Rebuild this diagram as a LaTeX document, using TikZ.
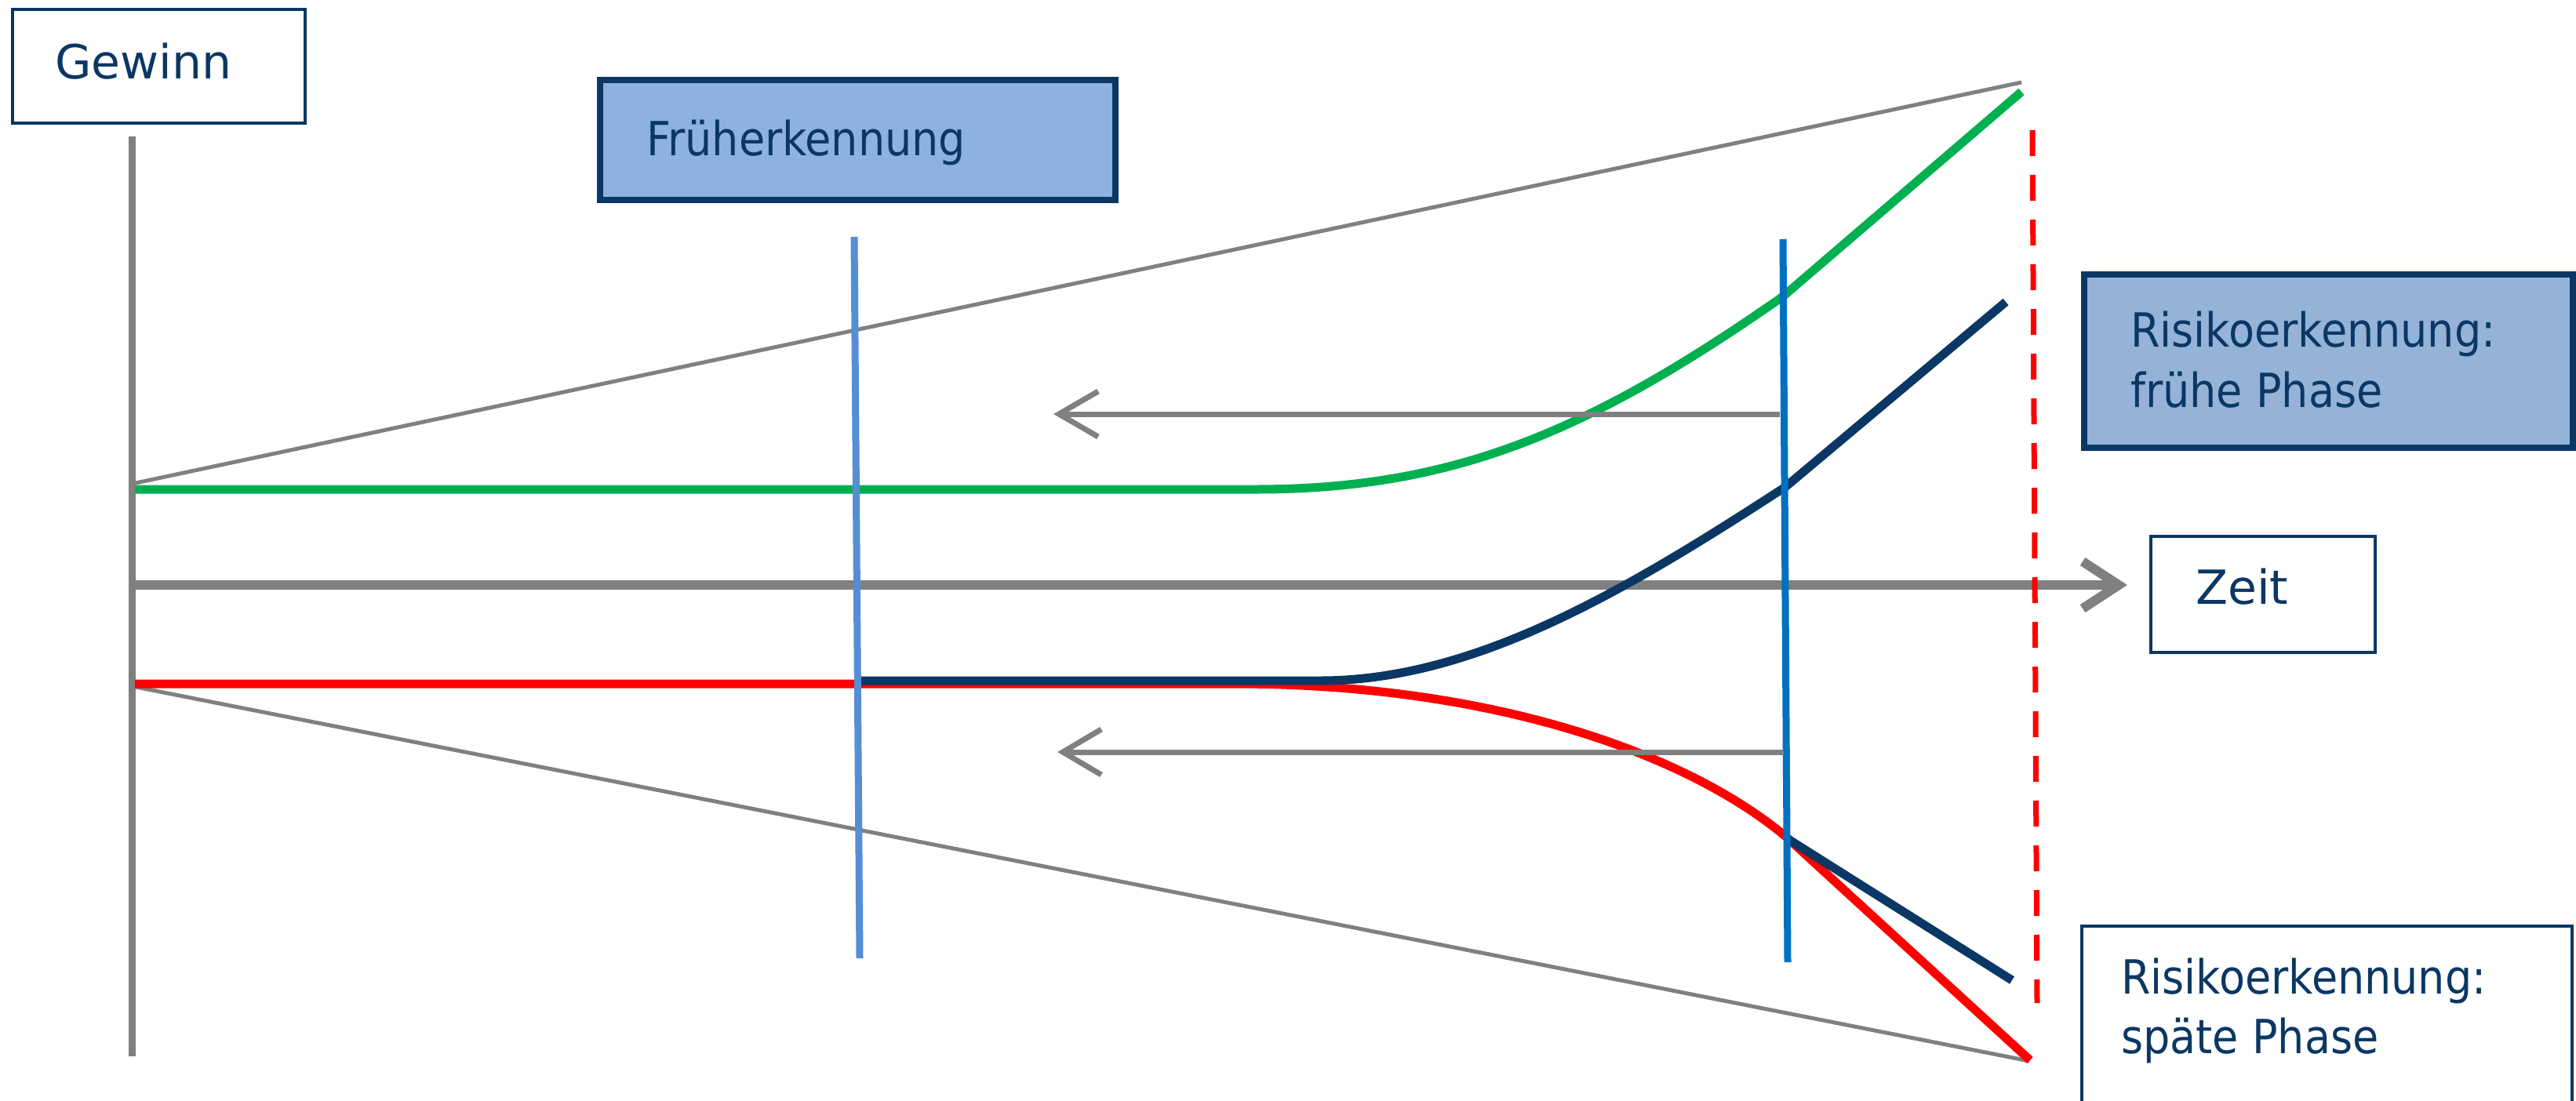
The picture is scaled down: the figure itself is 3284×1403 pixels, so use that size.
\documentclass[tikz,border=0pt]{standalone}
\usepackage{fontspec}
\setmainfont{DejaVu Sans}
\newfontfamily\lblfont{DejaVu Sans}
\newfontfamily\lblnarrow[FakeStretch=0.9]{DejaVu Sans}
\definecolor{navy}{RGB}{10,55,100}
\definecolor{axgray}{RGB}{128,128,128}
\definecolor{curvegreen}{RGB}{0,176,80}
\definecolor{curvered}{RGB}{255,0,0}
\definecolor{blueA}{RGB}{85,142,213}
\definecolor{blueB}{RGB}{0,112,192}
\definecolor{fillA}{RGB}{141,178,226}
\definecolor{fillB}{RGB}{149,179,215}
\begin{document}
\begin{tikzpicture}[x=1pt,y=-1pt,
  txt/.style={anchor=base west,inner sep=0pt,text=navy,font={\lblfont\fontsize{60}{77}\selectfont}},
  txtn/.style={txt,font={\lblnarrow\fontsize{60}{77}\selectfont}},
  whitebox/.style={draw=navy,line width=4pt,fill=white},
  bluebox/.style={draw=navy,line width=7.5pt},
  diag/.style={draw=axgray,line width=5pt},
  axisline/.style={draw=axgray,line width=9pt},
  chev/.style={draw=axgray,line join=miter},
  curve/.style={line width=11pt},
  marker/.style={line width=9pt}]
\useasboundingbox (0,0) rectangle (3284,1403);
\fill[white] (0,0) rectangle (3284,1403);

% coordinates
\coordinate (axtop) at (168,174);
\coordinate (axbot) at (168,1347);
\coordinate (apexU) at (168,617);
\coordinate (apexL) at (168,875);
\coordinate (farU) at (2577,105);
\coordinate (farL) at (2587,1353);

% boxes
\draw[whitebox] (16,12) rectangle (389,157);
\node[txt] (gewinn) at (70,100) {Gewinn};

\draw[bluebox,fill=fillA] (765,102) rectangle (1422,255);
\node[txtn] (frueh) at (824,198) {Früherkennung};

\draw[bluebox,fill=fillB] (2657,350) rectangle (3280,571);
\node[txtn] (rf1) at (2716,442) {Risikoerkennung:};
\node[txtn] (rf2) at (2716,519) {frühe Phase};

\draw[whitebox] (2742,684) rectangle (3028,832);
\node[txt] (zeit) at (2799,770) {Zeit};

\draw[whitebox] (2654,1430) -- (2654,1181) -- (3279,1181) -- (3279,1430);
\node[txtn] (rs1) at (2704,1267) {Risikoerkennung:};
\node[txtn] (rs2) at (2704,1343) {späte Phase};

% funnel
\draw[diag] (apexU) -- (farU);
\draw[diag] (apexL) -- (farL);

% axes
\draw[axisline] (axtop) -- (axbot);
\draw[draw=axgray,line width=12pt] (172,746) -- (2703,746);
\draw[chev,line width=12pt] (2655,716) -- (2701,746) -- (2655,776);

% curves
\draw[curve,curvered] (172,872) -- (1574,872) .. controls (1900,872) and (2150,960) .. (2278,1068) -- (2588,1352);
\draw[curve,navy] (1089,868) -- (1683,868) .. controls (1880,868) and (2073,753) .. (2276,621) -- (2557,385);
\draw[curve,navy] (2278,1069) -- (2565,1250);
\draw[curve,curvegreen] (172,624) -- (1600,624) .. controls (1850,624) and (2023,553) .. (2273,378) -- (2577,117);

% markers
\draw[marker,blueA] (1089,302) -- (1096,1222);
\draw[marker,blueB] (2273,305) -- (2279,1227);

% left arrows
\draw[draw=axgray,line width=7pt] (2269,528) -- (1352,528);
\draw[chev,line width=7pt] (1400,499) -- (1350,528) -- (1400,557);
\draw[draw=axgray,line width=7pt] (2274,959) -- (1357,959);
\draw[chev,line width=7pt] (1404,930) -- (1355,959) -- (1404,988);

% red dashed
\draw[curvered,line width=7pt,dash pattern=on 33pt off 24pt] (2591,166) -- (2597,1279);
\end{tikzpicture}
\end{document}
